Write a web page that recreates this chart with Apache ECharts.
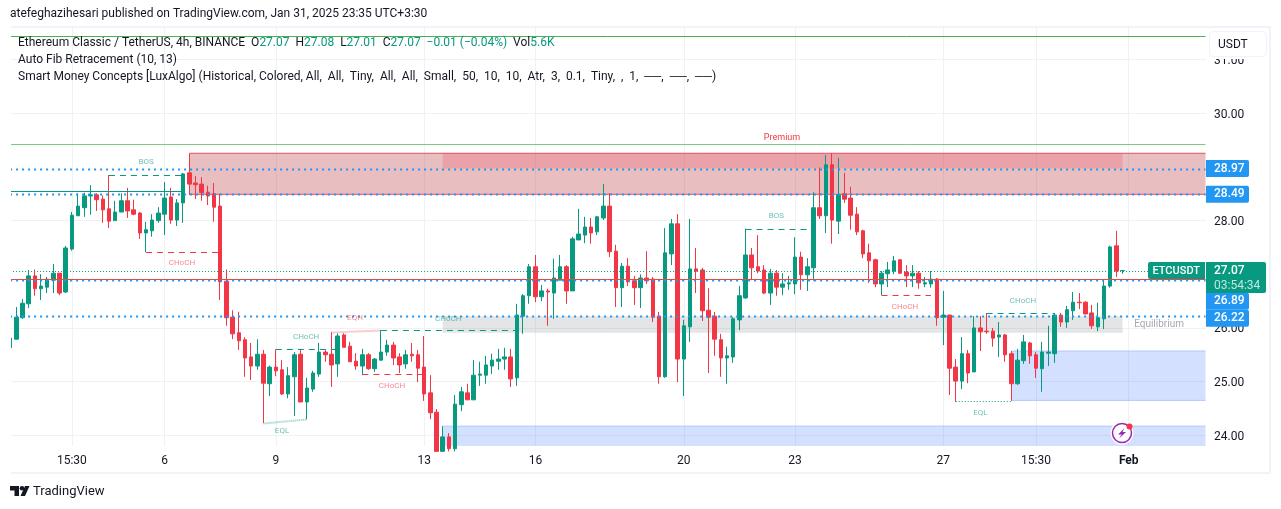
<!DOCTYPE html>
<html><head><meta charset="utf-8">
<style>html,body{margin:0;padding:0;background:#fff}#c{width:1281px;height:509px}</style>
<script src="https://cdn.jsdelivr.net/npm/echarts@6/dist/echarts.min.js"></script>
</head><body><div id="c"></div>
<script>
const opens=[25.63,25.79,26.19,26.45,26.97,26.73,26.76,26.89,27.02,26.67,27.47,28.09,28.24,28.46,28.48,28.40,28.22,28.00,28.16,28.37,28.20,28.14,27.77,27.81,28.00,28.12,28.44,28.01,28.33,28.89,28.70,28.68,28.53,28.50,28.27,26.87,26.20,25.91,25.78,25.46,25.29,25.51,24.96,25.27,25.22,24.77,25.09,25.51,24.62,24.86,25.14,25.55,25.51,25.33,25.87,25.66,25.38,25.29,25.50,25.24,25.40,25.55,25.68,25.46,25.33,25.51,25.50,25.27,24.79,24.43,23.70,23.97,23.75,24.57,24.79,24.66,25.12,25.12,25.29,25.38,25.42,25.46,25.07,26.22,26.60,27.14,26.58,26.69,26.65,26.89,27.14,26.69,27.64,27.73,27.88,27.79,28.05,28.27,27.43,26.75,27.15,26.88,26.75,26.93,26.91,26.22,25.09,27.38,27.94,25.42,26.02,27.10,27.08,26.33,26.22,25.78,25.44,25.46,26.15,26.56,27.36,27.14,27.08,26.65,27.02,26.76,26.82,26.82,27.32,26.99,27.12,28.24,28.09,29.04,27.99,28.50,28.42,28.12,27.81,27.40,27.27,26.82,27.01,27.06,27.27,27.04,26.97,27.02,26.82,26.82,26.91,26.20,26.24,25.27,25.01,25.52,25.18,26.00,25.94,25.94,25.83,25.87,25.52,24.96,25.39,25.72,25.50,25.24,25.53,25.52,26.24,26.11,26.32,26.48,26.48,26.28,26.02,26.17,26.78,27.53,27.07];
const closes=[25.81,26.20,26.46,26.97,26.73,26.78,26.91,27.02,26.65,27.49,28.10,28.27,28.46,28.48,28.39,28.20,27.99,28.16,28.37,28.18,28.12,27.77,27.83,28.01,28.14,28.42,28.01,28.33,28.87,28.68,28.67,28.52,28.46,28.25,26.86,26.19,25.89,25.76,25.44,25.29,25.51,24.97,25.27,25.20,24.77,25.11,25.50,24.62,24.88,25.16,25.55,25.50,25.31,25.85,25.64,25.37,25.29,25.50,25.24,25.42,25.55,25.68,25.44,25.31,25.50,25.48,25.25,24.77,24.42,23.70,23.97,23.75,24.58,24.81,24.66,25.12,25.14,25.31,25.40,25.42,25.46,25.05,26.24,26.60,27.14,26.58,26.69,26.67,26.93,27.14,26.69,27.66,27.75,27.88,27.77,28.07,28.27,27.42,26.75,27.15,26.86,26.75,26.93,26.88,26.20,25.09,27.40,27.94,25.42,26.04,27.10,27.06,26.32,26.20,25.79,25.44,25.48,26.17,26.60,27.36,27.12,27.06,26.65,27.02,26.76,26.82,26.84,27.32,26.99,27.14,28.24,28.09,29.04,28.01,28.48,28.40,28.10,27.79,27.38,27.25,26.82,27.02,27.08,27.25,27.02,26.97,27.02,26.84,26.84,26.91,26.19,26.24,25.25,25.01,25.52,25.16,26.00,25.93,25.93,25.81,25.87,25.50,24.96,25.40,25.74,25.48,25.25,25.55,25.55,26.24,26.11,26.34,26.48,26.47,26.26,26.04,26.19,26.78,27.51,27.06,27.07];
const lows=[25.63,25.79,26.17,26.37,26.60,26.52,26.65,26.65,26.61,26.65,27.44,28.09,28.07,28.11,28.18,27.96,27.86,28.00,28.16,28.05,28.10,27.66,27.41,27.70,27.96,27.73,27.94,27.90,27.96,28.48,28.40,28.37,28.29,27.98,26.52,26.04,25.79,25.59,25.09,25.03,25.22,24.23,24.73,25.10,24.75,24.69,24.36,24.62,24.30,24.81,25.09,25.37,24.90,25.09,25.64,25.37,25.22,25.12,25.22,25.18,25.39,25.48,25.31,25.16,25.24,25.37,24.99,24.64,24.30,23.70,23.70,23.70,23.70,24.45,24.66,24.66,24.92,24.96,25.14,25.22,25.22,24.90,24.92,25.89,26.45,26.48,26.50,26.04,26.17,26.89,26.45,26.69,27.64,27.58,27.57,27.73,28.01,27.32,26.39,26.39,26.78,26.43,26.37,26.82,26.11,24.96,25.07,27.17,24.99,24.73,25.74,26.65,26.13,25.16,25.48,25.09,24.96,25.35,25.96,26.54,26.89,27.02,26.63,26.43,26.60,26.61,26.71,26.63,26.71,26.69,26.88,28.03,27.77,27.57,27.75,28.33,27.83,27.73,27.30,26.84,26.76,26.61,26.76,27.00,27.00,26.76,26.76,26.73,26.76,26.75,26.04,25.68,24.75,24.62,24.86,24.97,25.18,25.57,25.89,25.65,25.46,25.37,24.64,24.94,25.33,25.33,25.07,24.81,25.29,25.35,26.02,26.00,26.15,26.35,26.26,25.98,25.94,25.98,26.75,26.95,27.01];
const highs=[26.04,26.39,26.54,27.08,27.09,27.00,26.95,27.19,27.02,27.53,28.16,28.51,28.52,28.66,28.51,28.47,28.85,28.37,28.51,28.61,28.39,28.16,27.98,28.12,28.25,28.72,28.61,28.40,28.89,29.25,28.83,28.81,28.65,28.70,28.50,27.09,26.33,26.30,25.83,25.72,25.79,25.59,25.30,25.60,25.40,25.27,25.55,25.59,25.07,25.20,25.72,25.60,25.92,25.90,25.90,25.74,25.53,25.61,25.53,25.44,25.96,25.78,25.74,25.53,25.59,25.72,25.59,25.85,25.12,24.49,24.17,24.04,24.75,24.90,24.96,25.40,25.37,25.48,25.52,25.61,25.63,25.61,26.45,26.63,27.19,27.36,26.80,26.73,27.29,27.36,27.17,27.70,28.22,28.07,28.05,28.09,28.68,28.51,27.55,27.21,27.30,26.97,27.00,27.43,26.95,26.30,27.86,28.03,28.12,26.15,28.03,27.49,27.12,26.74,26.30,25.89,25.65,26.20,26.78,27.85,27.49,27.73,27.17,27.10,27.08,27.02,26.97,27.69,27.42,27.30,28.53,28.99,29.22,29.25,29.17,28.89,28.63,28.25,27.83,27.57,27.29,27.06,27.23,27.34,27.27,27.17,27.17,27.06,26.95,27.06,26.93,26.69,26.24,25.42,25.83,25.59,26.22,26.22,26.28,26.00,26.11,25.89,25.57,25.61,25.87,25.74,25.55,25.74,26.04,26.28,26.28,26.41,26.67,26.65,26.50,26.43,26.47,26.89,27.53,27.81,27.08];
const barCount=194;
const LAST=barCount-1;
const timeLabels={10:'15:30',25:'6',43:'9',67:'13',85:'16',109:'20',127:'23',151:'27',166:'15:30',181:'Feb'};
const priceTicks=[24,25,26,28,30,31];
const categories=Array.from({length:barCount},(_,i)=>timeLabels[i]||String(i));
const zones=[
 [29,LAST,29.255,28.49,'rgba(178,40,51,0.3)','#e0505c'],
 [70,180,29.255,28.97,'rgba(242,54,69,0.2)',null],
 [70,180,26.22,25.91,'rgba(120,123,134,0.2)',null],
 [70,LAST,24.17,23.5,'rgba(41,98,255,0.2)','#b0c8fb'],
 [162,LAST,25.57,24.65,'rgba(41,98,255,0.2)','#b0c8fb']
];
const GREEN='#089981',RED='#f23645',BLUE='#2196f3';
const segments=[
 [0,LAST,31.44,31.44,'#4caf50',null,1],
 [0,LAST,29.42,29.42,'#81c784',null,1],
 [0,28,28.56,28.56,GREEN,null,1],
 [0,LAST,27.07,27.07,GREEN,[1,2],1],
 [0,LAST,28.97,28.97,BLUE,[2,4],2],
 [0,LAST,28.49,28.49,BLUE,[2,4],2],
 [0,LAST,26.89,26.89,BLUE,[2,4],2],
 [0,LAST,26.22,26.22,BLUE,[2,4],2],
 [0,LAST,26.906,26.906,'#e5484d',null,1],
 [16,28,28.845,28.845,GREEN,[6,5],1],
 [22,34,27.41,27.41,RED,[6,5],1],
 [43,53,25.6,25.6,GREEN,[6,5],1],
 [52,60,25.92,25.96,'rgba(242,54,69,0.5)',[1,1],2],
 [60,82,25.956,25.956,GREEN,[6,5],1],
 [57,67,25.136,25.136,RED,[6,5],1],
 [41,48,24.22,24.30,'rgba(8,153,129,0.5)',[1,1],2],
 [119,130,27.85,27.85,GREEN,[6,5],1],
 [141,149,26.61,26.61,RED,[6,5],1],
 [158,169,26.27,26.27,GREEN,[6,5],1],
 [153,162,24.63,24.63,GREEN,[1,2],1]
];
const TEALT='rgba(8,153,129,0.6)',PINK='rgba(242,54,69,0.6)';
const annotations=[
 [22,29.09,'BOS',TEALT,8],[27.8,27.21,'CHoCH',PINK,8],[47.9,25.83,'CHoCH',TEALT,8],[44,24.08,'EQL',TEALT,8],
 [55.8,26.19,'EQH',PINK,8],[70.9,26.17,'CHoCH',TEALT,8],[61.8,24.92,'CHoCH',PINK,8],[124,28.09,'BOS',TEALT,8],
 [144.8,26.39,'CHoCH',PINK,8],[163.9,26.50,'CHoCH',TEALT,8],[157,24.42,'EQL',TEALT,8],
 [124.9,29.55,'Premium',RED,9],[185.9,26.06,'Equilibrium','#a6a8b0',10]
];
const FONT='Roboto';
const chart=echarts.init(document.getElementById('c'),null,{renderer:'canvas'});
const TXT='#131722';
function rowText(x,y,rich,text){return {type:'text',z:60,left:x,top:y,style:{text,rich,font:'12px '+FONT,fill:TXT}};}
function endX(a,coordSys,isLast){return isLast?coordSys.x+coordSys.width-0.5:a;}
chart.setOption({
 animation:false,backgroundColor:'#fff',
 grid:{left:7,top:28,width:1199,height:418,containLabel:false},
 xAxis:{type:'category',data:categories,boundaryGap:true,
  axisLine:{show:false},axisTick:{show:false,alignWithLabel:true},
  splitLine:{show:true,alignWithLabel:true,interval:(i)=>timeLabels[i]!==undefined,lineStyle:{color:'#f0f1f4',width:1}},
  axisLabel:{interval:(i)=>timeLabels[i]!==undefined,margin:9,fontFamily:FONT,fontSize:12,color:TXT,
    formatter:(v)=>v==='Feb'?'{b|Feb}':v,rich:{b:{fontWeight:'bold',fontFamily:FONT,fontSize:12,color:TXT}}}},
 yAxis:{type:'value',position:'right',min:23.8,max:31.589,scale:true,
  axisLine:{show:false},axisTick:{show:false,customValues:priceTicks},
  splitLine:{show:true,lineStyle:{color:'#f0f1f4',width:1}},
  axisLabel:{customValues:priceTicks,margin:8,color:TXT,fontFamily:FONT,fontSize:12,
    formatter:(v)=>'{p|'+v.toFixed(2)+'}',rich:{p:{fontFamily:FONT,fontSize:12,color:TXT,padding:[3,0,0,0]}}}},
 series:[
  {type:'custom',z:1,silent:true,data:zones.map(z=>[z[0],z[2]]),renderItem:(p,api)=>{
    const z=zones[p.dataIndex],a=api.coord([z[0],z[2]]),b=api.coord([z[1],z[3]]),cs=p.coordSys;
    const bot=Math.min(b[1],cs.y+cs.height);
    const x2=endX(b[0],cs,z[1]===LAST);
    const kids=[{type:'rect',shape:{x:a[0],y:a[1],width:x2-a[0],height:bot-a[1]},style:{fill:z[4]}}];
    if(z[5]){kids.push({type:'line',shape:{x1:a[0],y1:a[1],x2,y2:a[1]},style:{stroke:z[5],lineWidth:1}});
      if(b[1]<=cs.y+cs.height)kids.push({type:'line',shape:{x1:a[0],y1:b[1],x2,y2:b[1]},style:{stroke:z[5],lineWidth:1}});}
    return {type:'group',children:kids};
  }},
  {type:'candlestick',z:2,barWidth:4,clip:true,
   data:opens.map((o,i)=>[o,closes[i],lows[i],highs[i]]),
   itemStyle:{color:GREEN,color0:RED,borderColor:GREEN,borderColor0:RED,borderWidth:1}},
  {type:'custom',z:3,silent:true,data:segments.map(s=>[s[0],s[2]]),renderItem:(p,api)=>{
    const s=segments[p.dataIndex],a=api.coord([s[0],s[2]]),b=api.coord([s[1],s[3]]);
    return {type:'line',shape:{x1:a[0],y1:Math.round(a[1])+.5,x2:endX(b[0],p.coordSys,s[1]===LAST),y2:Math.round(b[1])+.5},
      style:{stroke:s[4],lineWidth:s[6],lineDash:s[5]||undefined}};
  }},
  {type:'custom',z:4,silent:true,data:annotations.map(s=>[s[0],s[1]]),renderItem:(p,api)=>{
    const s=annotations[p.dataIndex],whole=Math.floor(s[0]),a=api.coord([whole,s[1]]);
    const band=api.size([1,0])[0];
    return {type:'text',x:a[0]+(s[0]-whole)*band,y:a[1],style:{text:s[2],fill:s[3],font:s[4]+'px '+FONT,align:'center',verticalAlign:'middle'}};
  }}
 ]
});
function priceY(p){return chart.convertToPixel({yAxisIndex:0},p);}
function tag(p,dy){const y=priceY(p)+dy;return [
  {type:'rect',z:70,shape:{x:1206,y:y-8.5,width:43,height:17,r:[0,2,2,0]},style:{fill:BLUE}},
  {type:'text',z:71,left:1214,top:y-6,style:{text:p.toFixed(2),font:'500 12px '+FONT,fill:'#fff'}}];}
const yLast=priceY(27.07);
const header1={g:{fill:GREEN,font:'12px '+FONT}};
chart.setOption({graphic:{elements:[
  {type:'rect',z:50,shape:{x:0,y:0,width:11,height:509},style:{fill:'#fff'}},
  {type:'rect',z:51,shape:{x:1209,y:31,width:58,height:28,r:4},style:{fill:'#fff'}},
  {type:'rect',z:52,shape:{x:1209.5,y:31.5,width:57,height:25,r:4},style:{fill:'#fff',stroke:'#f0f3fa',lineWidth:1}},
  {type:'text',z:53,left:1218,top:39,style:{text:'USDT',font:'12px '+FONT,fill:TXT}},
  {type:'rect',z:40,shape:{x:10,y:27,width:1260,height:446},style:{fill:'none',stroke:'#f0f3fa',lineWidth:2}},
  {type:'text',z:60,left:10,top:8,style:{text:'atefeghazihesari published on TradingView.com, Jan 31, 2025 23:35 UTC+3:30',font:'12px '+FONT,fill:TXT}},
  rowText(18,37,header1,'Ethereum Classic / TetherUS, 4h, BINANCE  O{g|27.07}  H{g|27.08}  L{g|27.01}  C{g|27.07}  {g|−0.01 (−0.04%)}  Vol{g|5.6K}'),
  rowText(18,54,{},'Auto Fib Retracement (10, 13)'),
  rowText(18,71,{},'Smart Money Concepts [LuxAlgo] (Historical, Colored, All,  All,  Tiny,  All,  All,  Small,  50,  10,  10,  Atr,  3,  0.1,  Tiny,  ,  1,  ──,  ──,  ──)'),
  ...tag(28.97,0),...tag(28.49,0),...tag(26.89,21),...tag(26.22,2),
  {type:'rect',z:72,shape:{x:1206,y:yLast-8.5,width:60,height:31,r:[0,2,2,0]},style:{fill:GREEN}},
  {type:'text',z:73,left:1214,top:yLast-6,style:{text:'27.07',font:'500 12px '+FONT,fill:'#fff'}},
  {type:'text',z:73,left:1214,top:yLast+9,style:{text:'03:54:34',font:'12px '+FONT,fill:'rgba(255,255,255,0.75)'}},
  {type:'rect',z:72,shape:{x:1148,y:yLast-8.5,width:57,height:17,r:[2,0,0,2]},style:{fill:GREEN}},
  {type:'text',z:73,left:1152.5,top:yLast-5,style:{text:'ETCUSDT',font:'500 11px '+FONT,fill:'#fff'}},
  {type:'circle',z:74,shape:{cx:1122,cy:433,r:11.5},style:{fill:'#fff'}},
  {type:'circle',z:75,shape:{cx:1122,cy:433,r:9.5},style:{fill:'none',stroke:'#9c27b0',lineWidth:1.5}},
  {type:'polygon',z:75,shape:{points:[[1124.5,428],[1118,434.5],[1121.5,434.5],[1119,438.5],[1126,432],[1122.5,432]]},style:{fill:'#9c27b0'}},
  {type:'circle',z:76,shape:{cx:1129.5,cy:426.5,r:3},style:{fill:'#f23645'}},
  {type:'polygon',z:60,shape:{points:[[10,486],[19,486],[19,496],[14.5,496],[14.5,490.5],[10,490.5]]},style:{fill:'#131722'}},
  {type:'circle',z:60,shape:{cx:22,cy:488.3,r:2.3},style:{fill:'#131722'}},
  {type:'polygon',z:60,shape:{points:[[25,486],[29.5,486],[25,496],[20.5,496]]},style:{fill:'#131722'}},
  {type:'text',z:60,left:33,top:485,style:{text:'TradingView',font:'13px '+FONT,fill:'#131722'}}
]}});
</script></body></html>
